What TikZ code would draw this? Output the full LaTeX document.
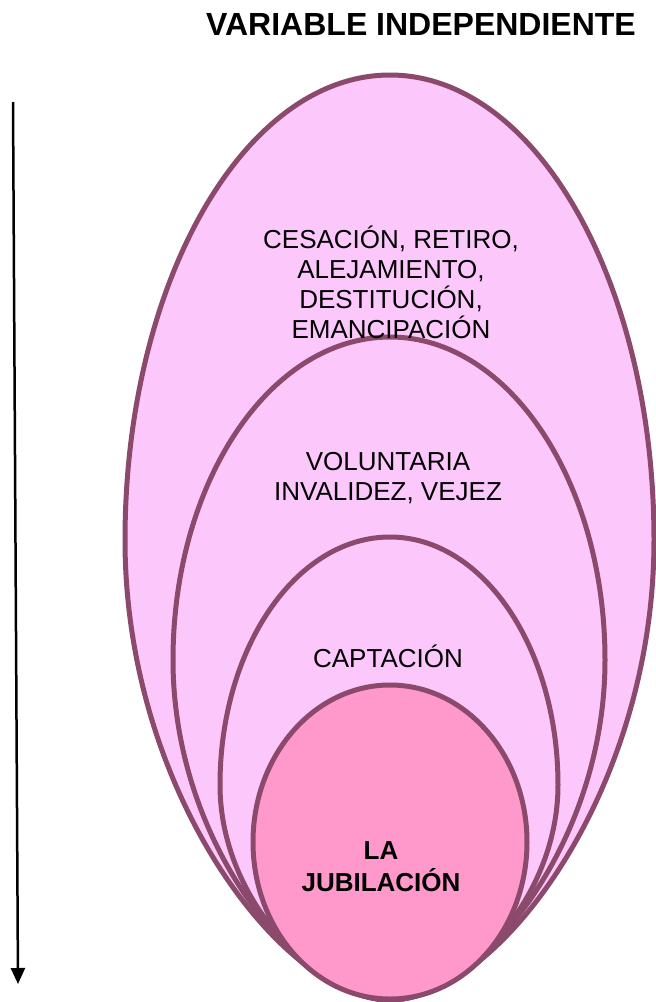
\documentclass[tikz,border=0pt]{standalone}
\usepackage{fontspec}
\setmainfont{Liberation Sans}
\usetikzlibrary{arrows.meta}
\definecolor{rim}{RGB}{139,74,107}
\definecolor{lightpink}{RGB}{252,200,252}
\definecolor{corepink}{RGB}{255,153,204}
\tikzset{
  egg/.style={draw=rim, line width=5pt, fill=lightpink},
  core/.style={draw=rim, line width=5pt, fill=corepink},
  lbl/.style={align=center, font=\fontsize{26}{30}\selectfont, inner sep=0pt},
  blbl/.style={align=center, font=\fontsize{26}{32}\selectfont\bfseries, inner sep=0pt},
  ttl/.style={font=\fontsize{32}{36}\selectfont\bfseries, inner sep=0pt},
  axis/.style={line width=2.5pt, -{Triangle[length=16pt,width=14pt]}}
}
\begin{document}
\begin{tikzpicture}[x=1pt,y=-1pt]
\useasboundingbox (0,0) rectangle (656,1002);
% outer egg
\path[egg] (390,1000) .. controls (284,1000) and (125,793) .. (125,540)
  .. controls (125,283) and (244,75) .. (390,75)
  .. controls (536,75) and (654,283) .. (654,540)
  .. controls (654,793) and (496,1000) .. (390,1000) -- cycle;
% second egg
\path[egg] (390,1000) .. controls (303,1000) and (173,847) .. (173,660)
  .. controls (173,482) and (270,337) .. (390,337)
  .. controls (509,337) and (605,482) .. (605,660)
  .. controls (605,847) and (476,1000) .. (390,1000) -- cycle;
% third egg
\path[egg] (390,1000) .. controls (322,1000) and (220,903) .. (220,785)
  .. controls (220,648) and (296,537) .. (390,537)
  .. controls (483,537) and (558,648) .. (558,785)
  .. controls (558,903) and (457,1000) .. (390,1000) -- cycle;
% core
\path[core] (390,842) ellipse [x radius=137, y radius=157];
\node[ttl] (title) at (421,24) {VARIABLE INDEPENDIENTE};
\node[lbl] (l1) at (391,282) {CESACIÓN, RETIRO,\\ALEJAMIENTO,\\DESTITUCIÓN,\\EMANCIPACIÓN};
\node[lbl] (l2) at (388,478) {VOLUNTARIA\\INVALIDEZ, VEJEZ};
\node[lbl] (l3) at (388,656) {CAPTACIÓN};
\node[blbl] (l4) at (381,867) {LA\\JUBILACIÓN};
\coordinate (a0) at (13,102);
\coordinate (a1) at (18,984);
\draw[axis] (a0) -- (a1);
\end{tikzpicture}
\end{document}
